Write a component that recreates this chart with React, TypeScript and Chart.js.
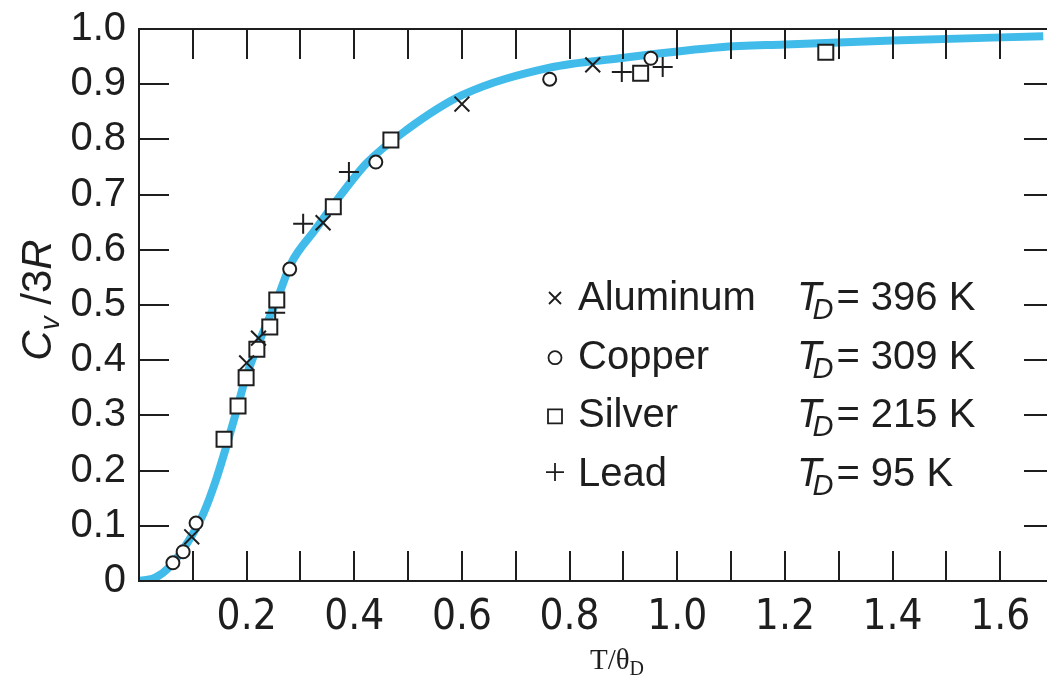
import React, { useEffect, useRef } from 'react';
import { Chart, registerables } from 'chart.js';

Chart.register(...registerables);

// Debye curve (T/θD, Cv/3R)
const curveX = [0, 0.03, 0.056, 0.093, 0.12, 0.143, 0.162, 0.18, 0.197, 0.22, 0.258, 0.283, 0.327, 0.36, 0.423, 0.497, 0.6, 0.763, 0.893, 1.08, 1.2, 1.4, 1.68];
const curveY = [0, 0.006, 0.025, 0.074, 0.123, 0.183, 0.243, 0.304, 0.364, 0.425, 0.514, 0.576, 0.636, 0.68, 0.757, 0.817, 0.88, 0.93, 0.947, 0.967, 0.972, 0.979, 0.987];

// Measured points
const aluminumX = [0.098, 0.2, 0.222, 0.342, 0.6, 0.843];
const aluminumY = [0.08, 0.395, 0.44, 0.649, 0.864, 0.935];
const copperX = [0.063, 0.082, 0.106, 0.28, 0.44, 0.763, 0.951];
const copperY = [0.033, 0.053, 0.105, 0.565, 0.759, 0.909, 0.947];
const silverX = [0.158, 0.184, 0.199, 0.219, 0.243, 0.256, 0.361, 0.468, 0.932, 1.276];
const silverY = [0.257, 0.317, 0.368, 0.42, 0.46, 0.509, 0.678, 0.799, 0.92, 0.958];
const leadX = [0.253, 0.305, 0.39, 0.897, 0.973];
const leadY = [0.486, 0.647, 0.741, 0.922, 0.931];

// Axes
const xLabelTicks = [0.2, 0.4, 0.6, 0.8, 1.0, 1.2, 1.4, 1.6];
const xMinorTicks = [0.1, 0.2, 0.3, 0.4, 0.5, 0.6, 0.7, 0.8, 0.9, 1.0, 1.1, 1.2, 1.3, 1.4, 1.5, 1.6];
const yTicks = [0, 0.1, 0.2, 0.3, 0.4, 0.5, 0.6, 0.7, 0.8, 0.9, 1.0];
const yMinorTicks = [0.1, 0.2, 0.3, 0.4, 0.5, 0.6, 0.7, 0.8, 0.9];

// Legend
const legendNames = ['Aluminum', 'Copper', 'Silver', 'Lead'];
const legendTemps = ['396', '309', '215', '95'];
const legendSymbols = ['x', 'o', 's', '+'];

const SANS = "'Liberation Sans', Arial, Helvetica, sans-serif";
const NARROW = "'Liberation Sans Narrow', 'DejaVu Sans Condensed', 'Liberation Sans', Arial, sans-serif";
const SERIF = "'Liberation Serif', 'Times New Roman', serif";
const INK = '#1e1e1e';
const CURVE = '#40bbea';

const pts = (xs: number[], ys: number[]) => xs.map((x, i) => ({ x, y: ys[i] }));

const decor = {
  id: 'decor',
  afterDatasetsDraw(chart: any) {
    const ctx = chart.ctx as CanvasRenderingContext2D;
    const { left, right, top, bottom } = chart.chartArea;
    const xs = chart.scales.x;
    const ys = chart.scales.y;
    const TL = 30;
    ctx.save();
    ctx.strokeStyle = INK;
    ctx.lineWidth = 2;
    ctx.beginPath();
    ctx.rect(left, top, right - left, bottom - top);
    ctx.stroke();
    ctx.beginPath();
    xMinorTicks.forEach((v) => {
      const px = Math.round(xs.getPixelForValue(v));
      ctx.moveTo(px, bottom);
      ctx.lineTo(px, bottom - TL);
      ctx.moveTo(px, top);
      ctx.lineTo(px, top + TL);
    });
    yMinorTicks.forEach((v) => {
      const py = Math.round(ys.getPixelForValue(v));
      ctx.moveTo(left, py);
      ctx.lineTo(left + TL, py);
      ctx.moveTo(right, py);
      ctx.lineTo(right - TL, py);
    });
    ctx.stroke();

    // Legend
    const lx = 555;
    const tx = 578;
    const tdx = 797;
    const base0 = 310;
    const step = 58.7;
    ctx.fillStyle = INK;
    ctx.textBaseline = 'alphabetic';
    legendNames.forEach((name, i) => {
      const by = base0 + i * step;
      ctx.lineWidth = 1.8;
      ctx.beginPath();
      const sym = legendSymbols[i];
      if (sym === 'x') {
        const cy = by - 12, h = 6;
        ctx.moveTo(lx - h, cy - h); ctx.lineTo(lx + h, cy + h);
        ctx.moveTo(lx + h, cy - h); ctx.lineTo(lx - h, cy + h);
      } else if (sym === 'o') {
        ctx.arc(lx, by - 11, 6.5, 0, Math.PI * 2);
      } else if (sym === 's') {
        ctx.rect(lx - 7, by - 18, 14, 14);
      } else {
        const cy = by - 14, h = 9;
        ctx.moveTo(lx - h, cy); ctx.lineTo(lx + h, cy);
        ctx.moveTo(lx, cy - h); ctx.lineTo(lx, cy + h);
      }
      ctx.stroke();
      ctx.font = `40px ${SANS}`;
      ctx.textAlign = 'left';
      ctx.fillText(name, tx, by);
      ctx.font = `italic 40px ${SANS}`;
      ctx.fillText('T', tdx, by);
      const wT = ctx.measureText('T').width;
      ctx.font = `italic 29px ${SANS}`;
      const dx = tdx + wT - 9;
      ctx.fillText('D', dx, by + 9);
      const wD = ctx.measureText('D').width;
      ctx.font = `40px ${SANS}`;
      ctx.fillText('= ' + legendTemps[i] + ' K', dx + wD + 3, by);
    });

    // Y axis title: C_v /3R (rotated)
    ctx.save();
    ctx.translate(51, 300);
    ctx.rotate(-Math.PI / 2);
    const parts = [
      { t: 'C', f: `italic 42px ${SANS}`, dy: 0 },
      { t: 'v', f: `italic 28px ${SANS}`, dy: 8 },
      { t: ' /3', f: `42px ${SANS}`, dy: 0 },
      { t: 'R', f: `italic 42px ${SANS}`, dy: 0 },
    ];
    let total = 0;
    const widths = parts.map((p) => { ctx.font = p.f; const w = ctx.measureText(p.t).width; total += w; return w; });
    let cx = -total / 2;
    ctx.textAlign = 'left';
    parts.forEach((p, i) => {
      ctx.font = p.f;
      ctx.fillText(p.t, cx, p.dy);
      cx += widths[i];
    });
    ctx.restore();

    // X axis title: T/θD
    ctx.font = `29px ${SERIF}`;
    const main = 'T/θ';
    const wMain = ctx.measureText(main).width;
    ctx.font = `20px ${SERIF}`;
    const wSub = ctx.measureText('D').width;
    const startX = 617 - (wMain + wSub) / 2;
    ctx.font = `29px ${SERIF}`;
    ctx.textAlign = 'left';
    ctx.fillText(main, startX, 669);
    ctx.font = `20px ${SERIF}`;
    ctx.fillText('D', startX + wMain, 675);
    ctx.restore();
  },
};

export default function App() {
  const ref = useRef<HTMLCanvasElement | null>(null);
  useEffect(() => {
    if (!ref.current) return;
    const markerCommon = {
      borderColor: INK,
      backgroundColor: '#ffffff',
      borderWidth: 2,
      showLine: false,
    };
    const chart = new Chart(ref.current, {
      type: 'scatter',
      data: {
        datasets: [
          { ...markerCommon, label: 'Aluminum', data: pts(aluminumX, aluminumY), pointStyle: 'crossRot', pointRadius: 10.5, order: 1 },
          { ...markerCommon, label: 'Copper', data: pts(copperX, copperY), pointStyle: 'circle', pointRadius: 6.5, order: 1 },
          { ...markerCommon, label: 'Silver', data: pts(silverX, silverY), pointStyle: 'rect', pointRadius: 10.6, order: 1 },
          { ...markerCommon, label: 'Lead', data: pts(leadX, leadY), pointStyle: 'cross', pointRadius: 10, order: 1 },
          {
            label: 'Debye',
            data: pts(curveX, curveY),
            showLine: true,
            pointRadius: 0,
            borderColor: CURVE,
            backgroundColor: CURVE,
            borderWidth: 8,
            tension: 0.4,
            cubicInterpolationMode: 'monotone',
            order: 2,
          } as any,
        ],
      },
      options: {
        animation: false,
        responsive: false,
        maintainAspectRatio: false,
        layout: { padding: { top: 29, right: 16, left: 0, bottom: 0 } },
        plugins: { legend: { display: false }, tooltip: { enabled: false } },
        scales: {
          x: {
            type: 'linear',
            min: 0,
            max: 1.7,
            grid: { display: false, drawTicks: false },
            border: { display: false },
            ticks: {
              color: INK,
              padding: 12,
              font: { family: NARROW, size: 42 },
              callback: (v: any) => Number(v).toFixed(1),
            },
            afterBuildTicks: (s: any) => { s.ticks = xLabelTicks.map((value) => ({ value })); },
            afterFit: (s: any) => {
              s.height = 97;
              s.paddingLeft = 0; s.paddingRight = 0; s.paddingTop = 0; s.paddingBottom = 0;
            },
          },
          y: {
            type: 'linear',
            min: 0,
            max: 1,
            grid: { display: false, drawTicks: false },
            border: { display: false },
            ticks: {
              color: INK,
              padding: 13,
              font: { family: SANS, size: 40 },
              callback: (v: any) => (Number(v) === 0 ? '0' : Number(v).toFixed(1)),
            },
            afterBuildTicks: (s: any) => { s.ticks = yTicks.map((value) => ({ value })); },
            afterFit: (s: any) => {
              s.width = 139;
              s.paddingLeft = 0; s.paddingRight = 0; s.paddingTop = 0; s.paddingBottom = 0;
            },
          },
        },
      } as any,
      plugins: [decor],
    });
    return () => chart.destroy();
  }, []);
  return (
    <div style={{ position: 'fixed', left: 0, top: 0, width: 1047, height: 678, overflow: 'hidden', background: '#ffffff' }}>
      <canvas ref={ref} width={1070} height={678} style={{ display: 'block', width: 1070, height: 678 }} />
    </div>
  );
}
